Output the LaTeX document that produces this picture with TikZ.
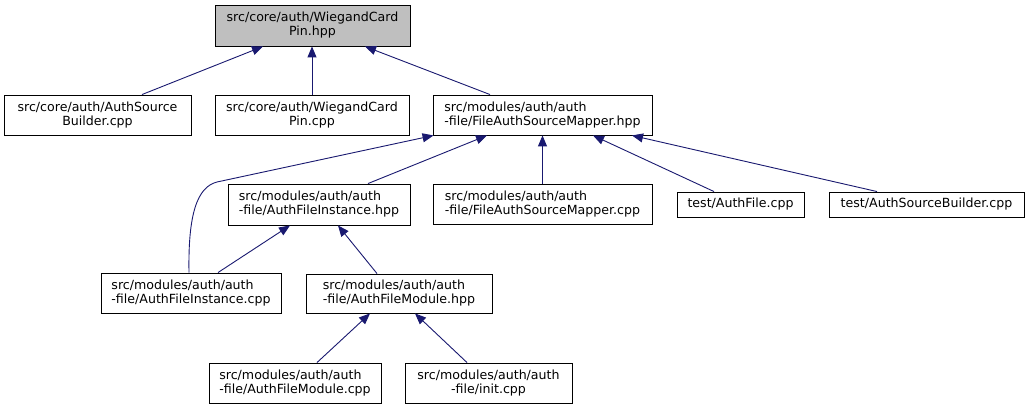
\documentclass[tikz,border=0pt]{standalone}
\usepackage{fontspec}
\newfontfamily\dfont{DejaVu Sans}
\usetikzlibrary{arrows.meta}
\definecolor{edgeblue}{HTML}{191970}
\definecolor{rootgray}{HTML}{BFBFBF}
\begin{document}
\begin{tikzpicture}[x=1pt,y=-1pt,
  box/.style={draw=black, line width=0.9pt, fill=white, inner xsep=0pt, inner ysep=0pt,
    font={\dfont\fontsize{12.6}{14}\selectfont}, minimum height=40pt},
  rootbox/.style={box, fill=rootgray},
  onebox/.style={box, minimum height=25pt},
  dep/.style={draw=edgeblue, line width=0.9pt, -{Triangle[length=11pt,width=9pt]}}
]
\fill[white] (0,0) rectangle (1031,409);
\useasboundingbox (0,0) rectangle (1031,409);

\node[rootbox, minimum width=195pt, minimum height=41pt, align=center] (top) at (312.5,25.5) {src/core/auth/WiegandCard\\Pin.hpp};
\node[box, minimum width=187pt, align=center] (asb) at (97.5,115) {src/core/auth/AuthSource\\Builder.cpp};
\node[box, minimum width=194pt, align=center] (wcp) at (312,115) {src/core/auth/WiegandCard\\Pin.cpp};
\node[box, minimum width=219pt, align=left] (fasmh) at (542.5,115) {src/modules/auth/auth\\-file/FileAuthSourceMapper.hpp};
\node[box, minimum width=182pt, minimum height=41pt, align=left] (afih) at (319,204.5) {src/modules/auth/auth\\-file/AuthFileInstance.hpp};
\node[box, minimum width=219pt, align=left] (fasmc) at (542.5,204) {src/modules/auth/auth\\-file/FileAuthSourceMapper.cpp};
\node[onebox, minimum width=127pt] (taf) at (740.5,204.5) {test/AuthFile.cpp};
\node[onebox, minimum width=195pt] (tasb) at (926.5,204.5) {test/AuthSourceBuilder.cpp};
\node[box, minimum width=180pt, align=left] (afic) at (191,293) {src/modules/auth/auth\\-file/AuthFileInstance.cpp};
\node[box, minimum width=186pt, minimum height=39pt, align=left] (afmh) at (399,293.5) {src/modules/auth/auth\\-file/AuthFileModule.hpp};
\node[box, minimum width=172pt, align=left] (afmc) at (295,383) {src/modules/auth/auth\\-file/AuthFileModule.cpp};
\node[box, minimum width=167pt, align=center] (init) at (488.5,383) {src/modules/auth/auth\\-file/init.cpp};

\draw[dep] ([xshift=44.5pt]asb.north) -- ([xshift=-49.5pt]top.south);
\draw[dep] (wcp.north) -- (wcp.north |- top.south);
\draw[dep] ([xshift=-52.5pt]fasmh.north) -- ([xshift=52.5pt]top.south);

\draw[dep] ([xshift=-2pt]afic.north) .. controls +(-1,-58) and +(-20,5) .. (217,182) -- ([xshift=1pt]fasmh.south west);
\draw[dep] ([xshift=49pt]afih.north) -- ([xshift=-55.5pt]fasmh.south);
\draw[dep] (fasmc.north) -- (fasmh.south);
\draw[dep] ([xshift=-26.5pt]taf.north) -- ([xshift=50.5pt]fasmh.south);
\draw[dep] ([xshift=-49.5pt]tasb.north) -- ([xshift=89.5pt]fasmh.south);

\draw[dep] ([xshift=27pt]afic.north) -- ([xshift=-29pt]afih.south);
\draw[dep] ([xshift=-22pt]afmh.north) -- ([xshift=19pt]afih.south);
\draw[dep] ([xshift=22pt]afmc.north) -- ([xshift=-29pt]afmh.south);
\draw[dep] ([xshift=-21.5pt]init.north) -- ([xshift=16pt]afmh.south);
\end{tikzpicture}
\end{document}
